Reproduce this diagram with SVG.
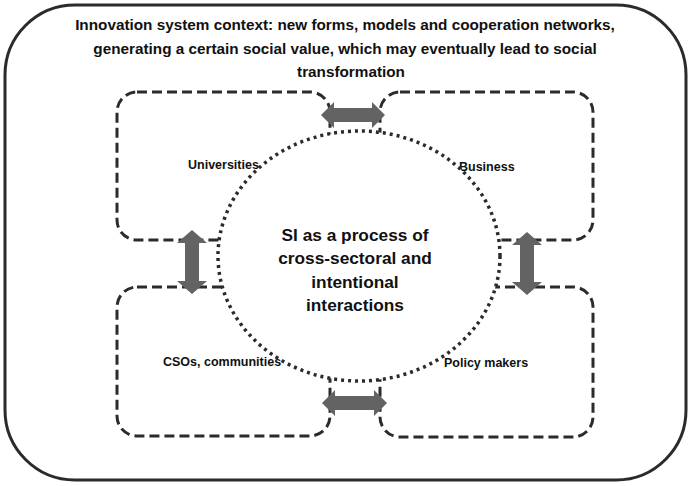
<svg xmlns="http://www.w3.org/2000/svg" width="690" height="486" viewBox="0 0 690 486">
<style>
.frame{fill:#fff;stroke:#2b2b2b;stroke-width:3}
.box{fill:none;stroke:#2b2b2b;stroke-width:3;stroke-dasharray:10 5}
.core{fill:#fff;stroke:#2b2b2b;stroke-width:3.5;stroke-dasharray:3 4}
.arr{fill:#636363}
.title{font-family:"Liberation Sans",Arial,sans-serif;font-weight:bold;font-size:15.3px;fill:#111;text-anchor:middle}
.center{font-family:"Liberation Sans",Arial,sans-serif;font-weight:bold;font-size:17.3px;fill:#111;text-anchor:middle}
.lab{font-family:"Liberation Sans",Arial,sans-serif;font-weight:bold;font-size:12.5px;fill:#111}
</style>
<rect width="690" height="486" fill="#fff"/>
<g id="context">
<rect class="frame" x="5" y="5" width="681" height="475" rx="70" ry="70"/>
<text class="title" x="345" y="30">Innovation system context: new forms, models and cooperation networks,</text>
<text class="title" x="345" y="54">generating a certain social value, which may eventually lead to social</text>
<text class="title" x="351" y="77">transformation</text>
</g>
<g id="universities">
<rect class="box" x="117" y="92" width="213" height="148" rx="20" ry="20"/>
<text class="lab" x="188" y="169">Universities</text>
</g>
<g id="business">
<rect class="box" x="380" y="92" width="213" height="148" rx="20" ry="20"/>
<text class="lab" x="459" y="171">Business</text>
</g>
<g id="csos">
<rect class="box" x="117" y="287" width="213" height="149" rx="20" ry="20"/>
<text class="lab" x="163" y="366">CSOs, communities</text>
</g>
<g id="policy">
<rect class="box" x="380" y="287" width="213" height="150" rx="20" ry="20"/>
<text class="lab" x="444" y="367">Policy makers</text>
</g>
<g id="si">
<ellipse class="core" cx="359" cy="256" rx="141" ry="125"/>
<text class="center" x="355" y="241">SI as a process of</text>
<text class="center" x="355" y="264">cross-sectoral and</text>
<text class="center" x="355" y="288">intentional</text>
<text class="center" x="355" y="311">interactions</text>
</g>
<g id="connectors">
<path class="arr" d="M321,115 L334,102 L334,108 L372,108 L372,102 L385,115 L372,128 L372,122 L334,122 L334,128 Z"/>
<path class="arr" d="M322,403 L335,390 L335,396 L374,396 L374,390 L387,403 L374,416 L374,410 L335,410 L335,416 Z"/>
<path class="arr" d="M192,230 L207,243 L199,243 L199,281 L207,281 L192,294 L177,281 L185,281 L185,243 L177,243 Z"/>
<path class="arr" d="M527,232 L542,245 L534,245 L534,282 L542,282 L527,295 L512,282 L520,282 L520,245 L512,245 Z"/>
</g>
</svg>
